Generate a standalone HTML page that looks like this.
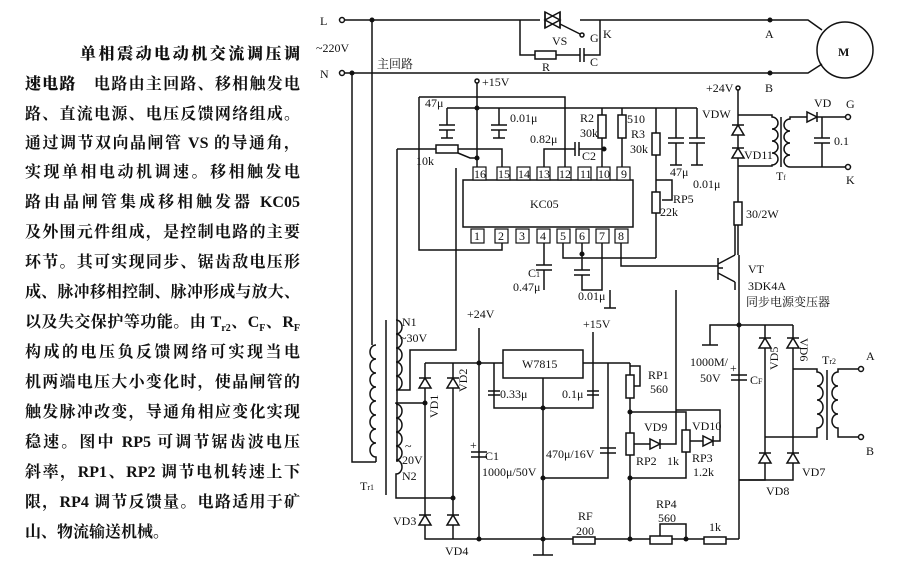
<!DOCTYPE html>
<html><head><meta charset="utf-8">
<style>
body{margin:0;background:#fff;}
#w{position:relative;width:911px;height:578px;overflow:hidden;background:#fff;}
.t{position:absolute;left:25px;width:275px;font:16px "Liberation Serif","Noto Serif CJK SC","Noto Sans CJK SC",serif;color:#111;text-align:justify;text-align-last:justify;white-space:nowrap;line-height:20px;font-weight:bold;}
svg{position:absolute;left:0;top:0;}
svg text{font-family:"Liberation Serif","Noto Serif CJK SC",serif;font-size:12px;fill:#111;}
</style></head><body><div id="w">
<div class="t" style="top:45px;left:80px;width:220px;font-weight:900">单相震动电动机交流调压调</div>
<div class="t" style="top:75px"><b style="font-weight:900">速电路</b>　电路由主回路、移相触发电</div>
<div class="t" style="top:105px">路、直流电源、电压反馈网络组成。</div>
<div class="t" style="top:134px">通过调节双向晶闸管 VS 的导通角，</div>
<div class="t" style="top:163px">实现单相电动机调速。移相触发电</div>
<div class="t" style="top:193px">路由晶闸管集成移相触发器 KC05</div>
<div class="t" style="top:223px">及外围元件组成，是控制电路的主要</div>
<div class="t" style="top:253px">环节。其可实现同步、锯齿敌电压形</div>
<div class="t" style="top:283px">成、脉冲移相控制、脉冲形成与放大、</div>
<div class="t" style="top:313px">以及失交保护等功能。由 T<sub style="font-size:10px">r2</sub>、C<sub style="font-size:10px">F</sub>、R<sub style="font-size:10px">F</sub></div>
<div class="t" style="top:343px">构成的电压负反馈网络可实现当电</div>
<div class="t" style="top:373px">机两端电压大小变化时，使晶闸管的</div>
<div class="t" style="top:403px">触发脉冲改变，导通角相应变化实现</div>
<div class="t" style="top:433px">稳速。图中 RP5 可调节锯齿波电压</div>
<div class="t" style="top:463px">斜率，RP1、RP2 调节电机转速上下</div>
<div class="t" style="top:493px">限，RP4 调节反馈量。电路适用于矿</div>
<div class="t" style="top:523px;text-align-last:left">山、物流输送机械。</div>

<svg width="911" height="578" viewBox="0 0 911 578" stroke="#111" stroke-width="1.5" fill="none">
<defs>
<g id="dd"><path d="M-6,-5 L6,-5 L0,5 Z" fill="#fff"/><path d="M-6,5 L6,5"/></g>
<g id="du"><path d="M-6,5 L6,5 L0,-5 Z" fill="#fff"/><path d="M-6,-5 L6,-5"/></g>
<g id="dr"><path d="M-5,-5 L-5,5 L5,0 Z" fill="#fff"/><path d="M5,-5 L5,5"/></g>
</defs>
<!-- mains -->
<text x="320" y="25" stroke="none" font-size="13">L</text>
<text x="320" y="78" stroke="none" font-size="13">N</text>
<text x="316" y="52" stroke="none">~220V</text>
<circle cx="342" cy="20" r="2.5"/><circle cx="342" cy="73" r="2.5"/>
<path d="M345,20 H520 M600,20 H808 L822,30"/>
<path d="M345,73 H808 L822,64"/>
<circle cx="845" cy="50" r="28"/>
<text x="838" y="56" stroke="none" font-weight="bold">M</text>
<circle cx="372" cy="20" r="1.8" fill="#111"/><circle cx="352" cy="73" r="1.8" fill="#111"/>
<circle cx="770" cy="20" r="1.8" fill="#111"/><circle cx="770" cy="73" r="1.8" fill="#111"/>
<text x="765" y="38" stroke="none" font-size="13">A</text>
<text x="765" y="92" stroke="none" font-size="13">B</text>
<text x="377" y="68" stroke="none">主回路</text>
<!-- triac -->
<path d="M520,20 H540 M580,20 H600"/>
<path d="M545,12 L545,28 L560,20 Z M560,12 L560,28 L545,20 Z" fill="#fff"/>
<path d="M545,12 V28 M560,12 V28 M560,24 L580,34"/><circle cx="582" cy="35" r="2"/>
<text x="552" y="45" stroke="none" font-size="13">VS</text>
<text x="590" y="42" stroke="none" font-size="13">G</text>
<text x="603" y="38" stroke="none" font-size="13">K</text>
<path d="M520,20 V55 H535 M556,55 H580 M584,55 H600 V20"/>
<rect x="535" y="51" width="21" height="8" fill="#fff"/>
<path d="M580,48 V62 M584,48 V62"/>
<text x="542" y="71" stroke="none">R</text><text x="590" y="66" stroke="none">C</text>
<!-- T1 primary -->
<path d="M372,20 V345 M352,73 V462 H376"/>
<path d="M376,345 a6,7 0 0 0 0,14 a6,7 0 0 0 0,14 a6,7 0 0 0 0,14 a6,7 0 0 0 0,14 a6,7 0 0 0 0,14 a6,7 0 0 0 0,14 a6,7 0 0 0 0,14 a6,7 0 0 0 0,14 V462"/>
<path d="M386,320 V495"/>
<text x="360" y="490" stroke="none" font-size="11">T<tspan font-size="8">r1</tspan></text>
<!-- N1 -->
<path d="M396,320 a6,7 0 0 1 0,14 a6,7 0 0 1 0,14 a6,7 0 0 1 0,14 a6,7 0 0 1 0,14 a6,7 0 0 1 0,14 H410 V350 H456 V168"/>
<text x="402" y="326" stroke="none">N1</text><text x="400" y="342" stroke="none">~30V</text>
<!-- N2 -->
<path d="M396,404 a6,7 0 0 1 0,14 a6,7 0 0 1 0,14 a6,7 0 0 1 0,14 a6,7 0 0 1 0,14 a6,7 0 0 1 0,14 V498 H453"/>
<path d="M396,404 V403 H425"/>
<text x="405" y="450" stroke="none">~</text><text x="402" y="464" stroke="none">20V</text><text x="402" y="480" stroke="none">N2</text>
<!-- bridge left -->
<path d="M425,363 H630 M425,363 V539 H739 M453,363 V539"/>
<use href="#du" x="425" y="383"/><use href="#du" x="453" y="383"/>
<use href="#du" x="425" y="520"/><use href="#du" x="453" y="520"/>
<circle cx="425" cy="403" r="1.8" fill="#111"/><circle cx="453" cy="498" r="1.8" fill="#111"/>
<text x="438" y="418" stroke="none" transform="rotate(-90 438 418)">VD1</text>
<text x="467" y="392" stroke="none" transform="rotate(-90 467 392)">VD2</text>
<text x="393" y="525" stroke="none">VD3</text><text x="445" y="555" stroke="none">VD4</text>
<!-- +24V, C1 -->
<text x="467" y="318" stroke="none">+24V</text>
<path d="M479,328 V539"/><circle cx="479" cy="363" r="1.8" fill="#111"/><circle cx="479" cy="539" r="1.8" fill="#111"/>
<path d="M471,452 H487 M471,457 H487" /><text x="470" y="449" stroke="none" font-size="10">+</text>
<text x="485" y="460" stroke="none">C1</text><text x="482" y="476" stroke="none" font-size="11">1000μ/50V</text>
<!-- W7815 -->
<rect x="503" y="350" width="80" height="28" fill="#fff"/>
<text x="522" y="368" stroke="none">W7815</text>
<path d="M494,363 V408 H593 V363 M543,378 V555 M533,555 H553"/>
<path d="M488,391 H500 M488,395 H500 M587,391 H599 M587,395 H599"/>
<text x="500" y="398" stroke="none" font-size="11">0.33μ</text><text x="562" y="398" stroke="none" font-size="11">0.1μ</text>
<text x="583" y="328" stroke="none">+15V</text><path d="M593,332 V363"/>
<circle cx="543" cy="408" r="1.8" fill="#111"/><circle cx="543" cy="478" r="1.8" fill="#111"/><circle cx="543" cy="539" r="1.8" fill="#111"/>
<path d="M608,363 V478 H543"/><path d="M600,448 H616 M600,453 H616"/>
<text x="546" y="458" stroke="none" font-size="11">470μ/16V</text>
<!-- RP1..RP3 -->
<path d="M630,363 V375 M630,398 V539"/><rect x="626" y="375" width="8" height="23" fill="#fff"/>
<path d="M634,386 H640 V366 H630"/>
<text x="648" y="379" stroke="none">RP1</text><text x="650" y="393" stroke="none">560</text>
<circle cx="630" cy="412" r="1.8" fill="#111"/><circle cx="630" cy="478" r="1.8" fill="#111"/>
<path d="M630,412 H686 V430 M686,452 V478 H630"/><rect x="626" y="433" width="8" height="22" fill="#fff"/>
<rect x="682" y="430" width="8" height="22" fill="#fff"/>
<path d="M634,444 H676 V412"/><use href="#dr" x="655" y="444"/>
<path d="M690,441 H720 V410 H676"/><use href="#dr" x="708" y="441"/>
<path d="M676,290 V412"/>
<text x="644" y="431" stroke="none">VD9</text><text x="692" y="430" stroke="none">VD10</text>
<text x="636" y="465" stroke="none">RP2</text><text x="667" y="465" stroke="none">1k</text>
<text x="692" y="462" stroke="none">RP3</text><text x="693" y="476" stroke="none">1.2k</text>
<!-- RF RP4 1k -->
<rect x="573" y="537" width="22" height="7" fill="#fff"/><text x="578" y="520" stroke="none">RF</text><text x="576" y="535" stroke="none">200</text>
<rect x="650" y="536" width="22" height="8" fill="#fff"/><path d="M660,536 V524 H686 V539"/>
<text x="656" y="508" stroke="none">RP4</text><text x="658" y="522" stroke="none">560</text>
<rect x="704" y="537" width="22" height="7" fill="#fff"/><text x="709" y="531" stroke="none">1k</text>
<circle cx="630" cy="539" r="1.8" fill="#111"/><circle cx="686" cy="539" r="1.8" fill="#111"/>
<!-- CF & right bridge -->
<path d="M739,255 V539 M739,325 H793 M739,325 H710 V345 M702,345 H718"/>
<circle cx="739" cy="325" r="1.8" fill="#111"/>
<path d="M731,375 H747 M731,380 H747"/><text x="730" y="372" stroke="none" font-size="10">+</text>
<text x="690" y="366" stroke="none">1000M/</text><text x="700" y="382" stroke="none">50V</text><text x="750" y="384" stroke="none">C<tspan font-size="8">F</tspan></text>
<path d="M765,325 V480 H739 M793,325 V437 H765"/>
<path d="M739,480 H793 V437"/>
<use href="#du" x="765" y="343"/><use href="#du" x="793" y="343"/>
<use href="#du" x="765" y="458"/><use href="#du" x="793" y="458"/>
<text x="778" y="370" stroke="none" transform="rotate(-90 778 370)">VD5</text>
<text x="800" y="338" stroke="none" transform="rotate(90 800 338)">VD6</text>
<text x="766" y="495" stroke="none">VD8</text><text x="802" y="476" stroke="none">VD7</text>
<path d="M793,369 H817 V372 a6,7 0 0 1 0,14 a6,7 0 0 1 0,14 a6,7 0 0 1 0,14 a6,7 0 0 1 0,14 V437 H793"/>
<path d="M827,370 V440"/>
<path d="M858,369 H838 V372 a6,7 0 0 0 0,14 a6,7 0 0 0 0,14 a6,7 0 0 0 0,14 a6,7 0 0 0 0,14 V437 H858"/>
<circle cx="861" cy="369" r="2.5"/><circle cx="861" cy="437" r="2.5"/>
<text x="822" y="364" stroke="none">T<tspan font-size="8">r2</tspan></text>
<text x="866" y="360" stroke="none" font-size="13">A</text><text x="866" y="455" stroke="none" font-size="13">B</text>
<!-- KC05 -->
<rect x="463" y="180" width="170" height="47" fill="#fff"/>
<text x="530" y="208" stroke="none">KC05</text>
<g stroke-width="1.2" fill="#fff">
<rect x="473" y="167" width="13" height="13"/><rect x="497" y="167" width="13" height="13"/><rect x="517" y="167" width="13" height="13"/><rect x="537" y="167" width="13" height="13"/>
<rect x="558" y="167" width="13" height="13"/><rect x="578" y="167" width="13" height="13"/><rect x="597" y="167" width="13" height="13"/><rect x="617" y="167" width="13" height="13"/>
<rect x="471" y="229" width="13" height="14"/><rect x="495" y="229" width="13" height="14"/><rect x="516" y="229" width="13" height="14"/><rect x="537" y="229" width="13" height="14"/>
<rect x="557" y="229" width="13" height="14"/><rect x="576" y="229" width="13" height="14"/><rect x="596" y="229" width="13" height="14"/><rect x="615" y="229" width="13" height="14"/>
</g>
<g stroke="none" font-size="11">
<text x="474" y="178">16</text><text x="498" y="178">15</text><text x="518" y="178">14</text><text x="538" y="178">13</text><text x="559" y="178">12</text><text x="580" y="178">11</text><text x="598" y="178">10</text><text x="621" y="178">9</text>
<text x="474" y="240">1</text><text x="498" y="240">2</text><text x="519" y="240">3</text><text x="540" y="240">4</text><text x="560" y="240">5</text><text x="579" y="240">6</text><text x="599" y="240">7</text><text x="618" y="240">8</text>
</g>
<!-- top area -->
<circle cx="477" cy="81" r="2"/><text x="482" y="86" stroke="none">+15V</text>
<path d="M477,83 V167"/><circle cx="477" cy="108" r="1.8" fill="#111"/>
<path d="M419,97 H565 V167 M419,97 V250 H502 V243"/>
<path d="M447,108 H697 M447,108 V125 M499,108 V125 M602,108 V115 M622,108 V115 M656,108 V133 M676,108 V138"/>
<path d="M439,125 H455 M439,130 H455 M447,130 V138 M441,138 H453"/><text x="425" y="107" stroke="none" font-size="11">47μ</text>
<path d="M491,125 H507 M491,130 H507 M499,130 V138 M493,138 H505"/><text x="510" y="122" stroke="none" font-size="11">0.01μ</text>
<rect x="598" y="115" width="8" height="23" fill="#fff"/><rect x="618" y="115" width="8" height="23" fill="#fff"/>
<path d="M602,138 V167 M622,138 V167 M544,167 V149 H575 M579,149 H604"/><path d="M575,142 V156 M579,142 V156"/>
<circle cx="604" cy="149" r="1.8" fill="#111"/>
<text x="580" y="122" stroke="none" font-size="11">R2</text><text x="580" y="137" stroke="none" font-size="11">30k</text>
<text x="627" y="123" stroke="none" font-size="11">510</text><text x="631" y="138" stroke="none" font-size="11">R3</text><text x="630" y="153" stroke="none" font-size="11">30k</text>
<text x="530" y="143" stroke="none" font-size="11">0.82μ</text><text x="582" y="160" stroke="none" font-size="11">C2</text>
<rect x="652" y="133" width="8" height="22" fill="#fff"/><path d="M656,155 V192 M656,213 V258"/>
<rect x="652" y="192" width="8" height="21" fill="#fff"/><path d="M656,180 H672 V200 H662"/>
<text x="673" y="203" stroke="none" font-size="11">RP5</text><text x="660" y="216" stroke="none" font-size="11">22k</text>
<path d="M668,138 H684 M668,143 H684 M676,143 V165 M670,165 H682"/><text x="670" y="176" stroke="none" font-size="11">47μ</text>
<path d="M697,108 V138 M689,138 H705 M689,143 H705 M697,143 V165 M691,165 H703"/><text x="693" y="188" stroke="none" font-size="11">0.01μ</text>
<!-- 10k -->
<path d="M397,149 H436 M458,149 H502 V167 M397,149 V462"/><rect x="436" y="145" width="22" height="8" fill="#fff"/>
<path d="M458,153 L470,158 H477"/><circle cx="477" cy="158" r="1.8" fill="#111"/>
<text x="416" y="165" stroke="none" font-size="11">10k</text>
<!-- bottom of KC05 -->
<path d="M544,243 V265 M536,265 H552 M536,270 H552 M544,270 V290"/><text x="528" y="277" stroke="none" font-size="11">C<tspan font-size="8">1</tspan></text><text x="513" y="291" stroke="none" font-size="11">0.47μ</text>
<path d="M563,243 V258 H656 M582,243 V270 M574,270 H590 M574,275 H590 M582,275 V290 H602 V243"/>
<circle cx="582" cy="254" r="1.8" fill="#111"/>
<text x="578" y="300" stroke="none" font-size="11">0.01μ</text><path d="M610,290 V308 M604,308 H616"/>
<path d="M621,243 V266 H718"/>
<path d="M718,258 V280 M718,268 H723 M718,264 L735,255 M718,273 L735,282"/>
<path d="M735,225 V255 M735,282 V290"/>
<text x="748" y="273" stroke="none" font-size="12">VT</text><text x="748" y="290" stroke="none" font-size="12">3DK4A</text>
<text x="746" y="306" stroke="none" font-size="12">同步电源变压器</text>
<!-- +24 right -->
<circle cx="738" cy="88" r="2"/><text x="706" y="92" stroke="none">+24V</text>
<path d="M738,90 V202"/><rect x="734" y="202" width="8" height="23" fill="#fff"/><text x="746" y="218" stroke="none" font-size="11">30/2W</text>
<path d="M738,225 V255"/>
<use href="#du" x="738" y="130"/><use href="#du" x="738" y="153"/>
<text x="702" y="118" stroke="none" font-size="11">VDW</text><text x="744" y="159" stroke="none" font-size="11">VD11</text>
<path d="M738,115 H772 V117 a6,6 0 0 1 0,12 a6,6 0 0 1 0,12 a6,6 0 0 1 0,12 a6,6 0 0 1 0,12 V166 H738"/>
<path d="M781,117 V167"/>
<path d="M805,117 H790 V119 a6,6 0 0 0 0,12 a6,6 0 0 0 0,12 a6,6 0 0 0 0,12 a6,6 0 0 0 0,12 V167 H845"/>
<path d="M805,117 H845"/><use href="#dr" x="812" y="117"/>
<circle cx="848" cy="117" r="2.5"/><circle cx="848" cy="167" r="2.5"/>
<path d="M822,117 V138 M814,138 H830 M814,143 H830 M822,143 V167"/>
<text x="834" y="145" stroke="none" font-size="11">0.1</text>
<text x="814" y="107" stroke="none" font-size="12">VD</text><text x="846" y="108" stroke="none" font-size="12">G</text><text x="846" y="184" stroke="none" font-size="12">K</text>
<text x="776" y="180" stroke="none" font-size="10">T<tspan font-size="7">f</tspan></text>
</svg>
</div></body></html>
